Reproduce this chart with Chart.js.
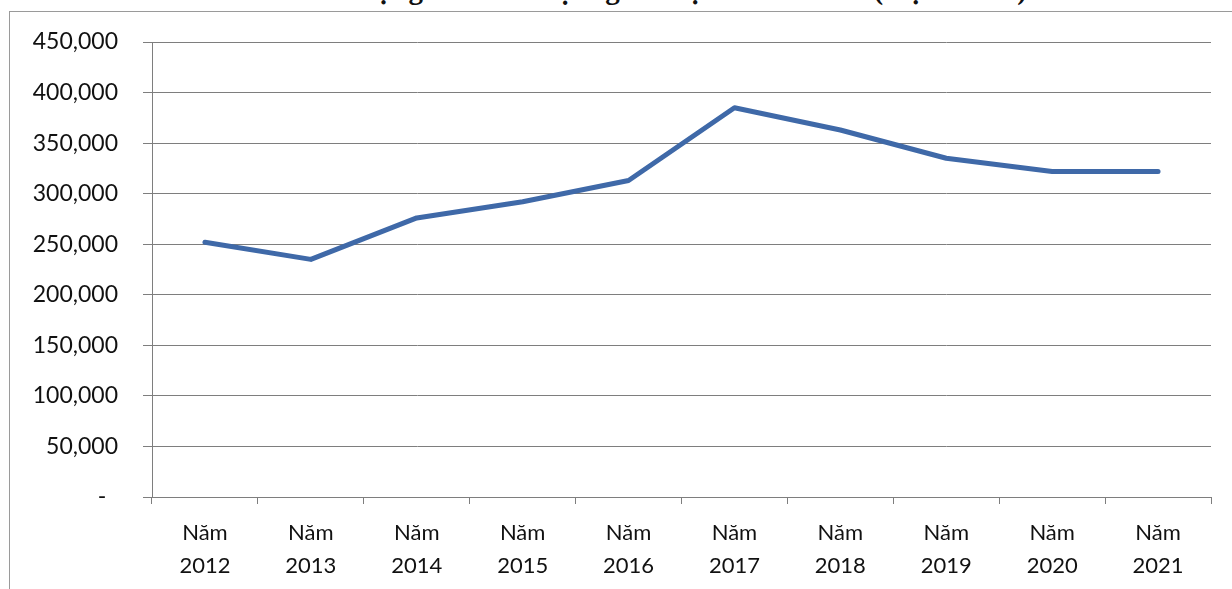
<!DOCTYPE html>
<html>
<head>
<meta charset="utf-8">
<script src="https://cdn.jsdelivr.net/npm/chart.js@4.4.1/dist/chart.umd.min.js"></script>
<style>
  html, body { margin: 0; padding: 0; background: #ffffff; overflow: hidden; }
  #wrap { position: relative; width: 1232px; height: 589px; overflow: hidden; background: #fff; }
  #frame { position: absolute; left: 9px; top: 11px; width: 1400px; height: 800px; border: 1px solid #9a9a9a; box-sizing: border-box; }
  #title { position: absolute; left: 0; width: 1340px; top: -25px; text-align: center; font: bold 29px "Liberation Serif", "DejaVu Serif", serif; line-height: 29px; color: #111; white-space: nowrap; }
  #c { position: absolute; left: 0; top: 0; }
</style>
</head>
<body>
<div id="wrap">
  <div id="frame"></div>
  <div id="title">Số lượng khách du lịch giai đoạn 2012 - 2021 (lượt khách)</div>
  <canvas id="c" width="1232" height="589"></canvas>
</div>
<script>
const categories = [["Năm", "2012"], ["Năm", "2013"], ["Năm", "2014"], ["Năm", "2015"], ["Năm", "2016"], ["Năm", "2017"], ["Năm", "2018"], ["Năm", "2019"], ["Năm", "2020"], ["Năm", "2021"]];
const visitors = [252000, 235000, 276000, 292000, 313000, 385000, 363000, 335000, 322000, 322000];
const yTicks = [0, 50000, 100000, 150000, 200000, 250000, 300000, 350000, 400000, 450000];

const gridColor = '#7e7e7e';
const textColor = '#111111';

new Chart(document.getElementById('c'), {
  type: 'line',
  data: {
    labels: categories,
    datasets: [{
      data: visitors,
      borderColor: '#3f69a8',
      borderWidth: 5,
      pointRadius: 0,
      tension: 0,
      borderJoinStyle: 'round',
      borderCapStyle: 'round',
      fill: false
    }]
  },
  options: {
    responsive: false,
    animation: false,
    devicePixelRatio: 1,
    layout: { padding: { top: 42, right: 21, bottom: 0, left: 0 } },
    plugins: { legend: { display: false }, tooltip: { enabled: false }, title: { display: false } },
    scales: {
      x: {
        offset: true,
        grid: { offset: true, drawOnChartArea: false, drawTicks: true, tickLength: 7, color: gridColor, lineWidth: 1 },
        border: { display: true, color: gridColor, width: 1 },
        ticks: { color: textColor, font: { family: 'Lato', size: 22, lineHeight: 1.5 }, padding: 12, maxRotation: 0, autoSkip: false },
        afterFit: (s) => { s.height = 92; }
      },
      y: {
        min: 0,
        max: 450000,
        afterBuildTicks: (s) => { s.ticks = yTicks.map(v => ({ value: v })); },
        grid: { color: gridColor, lineWidth: 1, tickLength: 9, drawTicks: true },
        border: { display: true, color: gridColor, width: 1 },
        ticks: {
          color: textColor,
          font: { family: 'Lato', size: 23 },
          padding: 25,
          callback: (v) => v === 0 ? '-  ' : v.toLocaleString('en-US')
        },
        afterFit: (s) => { s.width = 152; }
      }
    }
  }
});
</script>
</body>
</html>
